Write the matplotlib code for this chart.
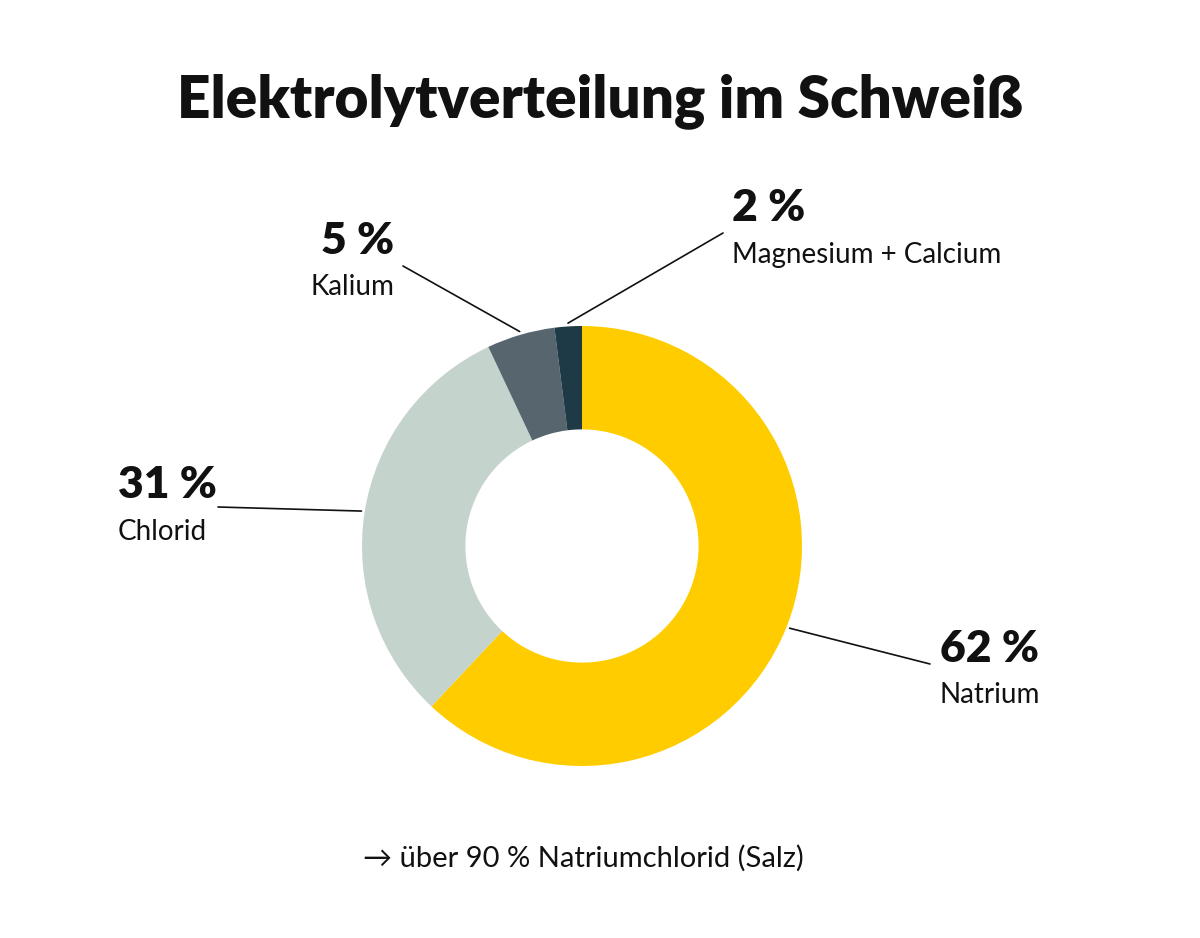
import numpy as np
import matplotlib.pyplot as plt

# data
labels = ["Natrium", "Chlorid", "Kalium", "Magnesium + Calcium"]
shares = [62, 31, 5, 2]
colors = ["#FFCC00", "#C5D3CD", "#56656E", "#1E3A46"]

# label layout in image pixels (x, baseline of number, baseline of name)
label_x = [940, 118, 394, 732]
num_base = [662, 498, 254, 221]
name_base = [703, 540, 295, 263]
label_ha = ["left", "left", "right", "left"]
line_end = [(930, 664), (218, 507), (403, 266), (723, 233)]

FONT = ["Lato", "DejaVu Sans"]
plt.rcParams["font.family"] = FONT

W, H = 1200, 938
fig = plt.figure(figsize=(W / 100, H / 100), dpi=100)
fig.patch.set_facecolor("white")


def fx(x):
    return x / W


def fy(y):
    return (H - y) / H


# donut: centre (582, 546) px, radius 220 px
cx, cy, r = 582, 546, 220
ax = fig.add_axes([fx(cx - r), fy(cy + r), 2 * r / W, 2 * r / H])
wedges, _ = ax.pie(shares, colors=colors, startangle=90, counterclock=False,
                   radius=1.0, wedgeprops=dict(width=0.47, linewidth=0))
ax.set_xlim(-1, 1)
ax.set_ylim(-1, 1)
ax.set_aspect("equal")
ax.axis("off")

for i, w in enumerate(wedges):
    mid = np.deg2rad((w.theta1 + w.theta2) / 2)
    xy = (1.015 * np.cos(mid), 1.015 * np.sin(mid))
    ex, ey = line_end[i]
    ax.annotate("", xy=xy, xycoords="data",
                xytext=(fx(ex), fy(ey)), textcoords="figure fraction",
                arrowprops=dict(arrowstyle="-", color="#111111", lw=1.2,
                                shrinkA=0, shrinkB=0),
                annotation_clip=False)
    fig.text(fx(label_x[i]), fy(num_base[i]), f"{shares[i]} %", ha=label_ha[i],
             va="baseline", fontsize=32, fontweight="heavy", color="#111111")
    fig.text(fx(label_x[i]), fy(name_base[i]), labels[i], ha=label_ha[i],
             va="baseline", fontsize=20, color="#111111")

fig.text(0.5, fy(117), "Elektrolytverteilung im Schweiß", ha="center",
         va="baseline", fontsize=42, fontweight="heavy", color="#111111")
fig.text(fx(583), fy(867), "→ über 90 % Natriumchlorid (Salz)",
         ha="center", va="baseline", fontsize=21, color="#111111")

fig.savefig("out.png", dpi=100, facecolor="white")
